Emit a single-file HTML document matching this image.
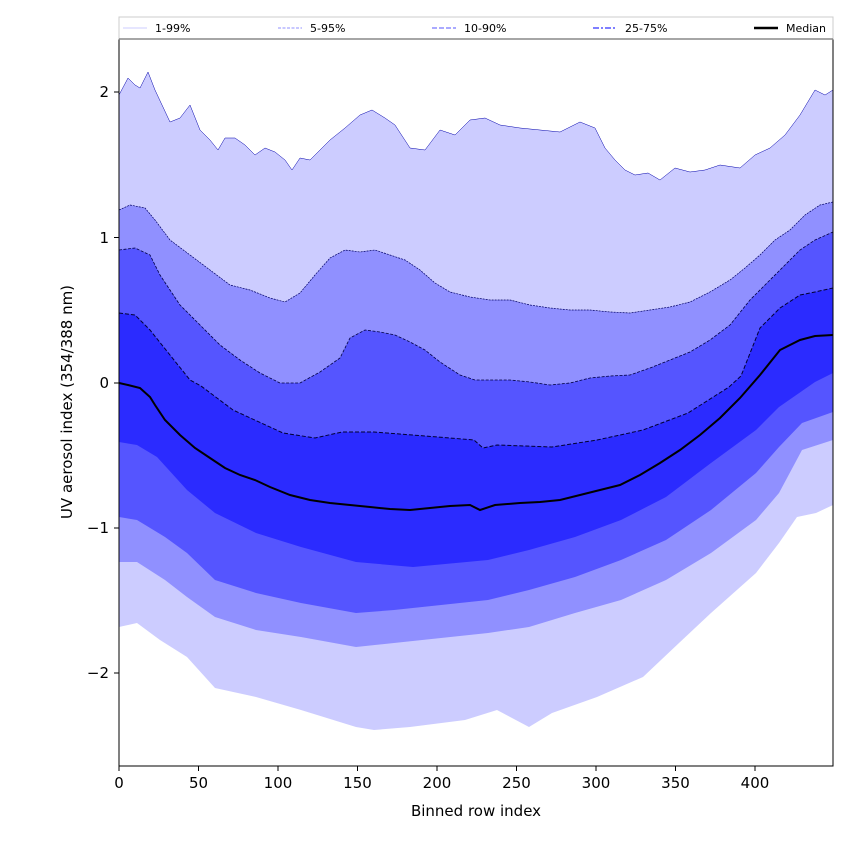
<!DOCTYPE html>
<html><head><meta charset="utf-8"><style>
body{margin:0;background:#fff;}
text{font-family:"DejaVu Sans","Liberation Sans",sans-serif;}
</style></head><body>
<svg width="850" height="850" viewBox="0 0 850 850" xmlns="http://www.w3.org/2000/svg">
<rect width="850" height="850" fill="#fff"/>
<defs><clipPath id="c"><rect x="119" y="39" width="714" height="727"/></clipPath></defs>
<g clip-path="url(#c)">
<polygon fill="#ccccff" stroke="none" points="119,95 128,78 135,85 140,88 148,72 155,90 170,122 180,118 190,105 200,130 210,140 218,150 225,138 235,138 245,145 255,155 265,148 275,152 285,160 292,170 300,158 310,160 320,150 330,140 345,128 360,115 372,110 385,118 395,125 410,148 425,150 440,130 455,135 470,120 485,118 500,125 520,128 540,130 560,132 580,122 595,128 605,148 615,160 625,170 635,175 648,173 660,180 675,168 690,172 705,170 720,165 740,168 755,155 770,148 785,135 800,115 815,90 825,95 833,90 833,505 816,513 797,517 779,543 756,573 711,613 679,643 643,677 597,697 552,713 529,727 497,710 465,720 410,727 374,730 356,727 301,710 256,697 215,688 187,657 160,640 137,623 119,627"/>
<polyline fill="none" stroke="#0000aa" stroke-width="0.5" points="119,95 128,78 135,85 140,88 148,72 155,90 170,122 180,118 190,105 200,130 210,140 218,150 225,138 235,138 245,145 255,155 265,148 275,152 285,160 292,170 300,158 310,160 320,150 330,140 345,128 360,115 372,110 385,118 395,125 410,148 425,150 440,130 455,135 470,120 485,118 500,125 520,128 540,130 560,132 580,122 595,128 605,148 615,160 625,170 635,175 648,173 660,180 675,168 690,172 705,170 720,165 740,168 755,155 770,148 785,135 800,115 815,90 825,95 833,90"/>
<polygon fill="#9090ff" stroke="none" points="119,210 130,205 145,208 155,220 170,240 190,255 210,270 230,285 250,290 270,298 285,302 300,293 315,275 330,258 345,250 360,252 375,250 390,255 405,260 420,270 435,283 450,292 470,297 490,300 510,300 530,305 550,308 570,310 590,310 610,312 630,313 650,310 670,307 690,302 710,292 730,280 745,268 760,255 775,240 790,230 805,215 820,205 833,202 833,440 802,450 779,493 756,520 711,553 666,580 621,600 575,613 529,627 488,633 394,643 356,647 301,637 256,630 215,617 187,597 165,580 137,562 119,562"/>
<polyline fill="none" stroke="#000066" stroke-width="0.7" stroke-dasharray="2,1" points="119,210 130,205 145,208 155,220 170,240 190,255 210,270 230,285 250,290 270,298 285,302 300,293 315,275 330,258 345,250 360,252 375,250 390,255 405,260 420,270 435,283 450,292 470,297 490,300 510,300 530,305 550,308 570,310 590,310 610,312 630,313 650,310 670,307 690,302 710,292 730,280 745,268 760,255 775,240 790,230 805,215 820,205 833,202"/>
<polygon fill="#5555ff" stroke="none" points="119,250 135,248 150,255 160,275 180,305 200,325 220,345 240,360 260,373 280,383 300,383 320,372 340,358 350,338 365,330 380,332 395,335 410,342 425,350 440,362 460,375 475,380 490,380 510,380 530,382 550,385 570,383 590,378 610,376 630,375 650,368 670,360 690,352 710,340 730,325 750,300 765,285 780,270 800,250 815,240 833,232 833,412 802,423 779,447 756,473 711,510 666,540 621,560 575,577 529,590 488,600 394,610 356,613 301,603 256,593 215,580 187,553 165,537 137,520 119,517"/>
<polyline fill="none" stroke="#000044" stroke-width="0.8" stroke-dasharray="3,1.5" points="119,250 135,248 150,255 160,275 180,305 200,325 220,345 240,360 260,373 280,383 300,383 320,372 340,358 350,338 365,330 380,332 395,335 410,342 425,350 440,362 460,375 475,380 490,380 510,380 530,382 550,385 570,383 590,378 610,376 630,375 650,368 670,360 690,352 710,340 730,325 750,300 765,285 780,270 800,250 815,240 833,232"/>
<polygon fill="#2b2bff" stroke="none" points="119,313 135,315 150,330 170,355 190,380 201,386 233,410 283,433 315,438 342,432 374,432 438,437 474,440 483,448 497,445 552,447 597,440 643,430 688,413 729,387 741,376 760,328 780,308 800,295 815,292 833,288 833,373 815,382 779,407 756,430 711,463 666,497 621,520 575,537 529,550 488,560 413,567 356,562 301,547 256,533 215,513 187,490 157,457 137,445 119,442"/>
<polyline fill="none" stroke="#000033" stroke-width="1" stroke-dasharray="4,2" points="119,313 135,315 150,330 170,355 190,380 201,386 233,410 283,433 315,438 342,432 374,432 438,437 474,440 483,448 497,445 552,447 597,440 643,430 688,413 729,387 741,376 760,328 780,308 800,295 815,292 833,288"/>
<polyline fill="none" stroke="#000" stroke-width="2" points="119,383 128,385 140,388 150,397 155,405 165,420 180,435 195,448 210,458 225,468 240,475 255,480 270,487 290,495 310,500 330,503 350,505 370,507 390,509 410,510 430,508 450,506 470,505 480,510 495,505 520,503 540,502 560,500 580,495 600,490 620,485 640,475 660,463 680,450 700,435 720,418 740,398 760,375 780,350 800,340 815,336 833,335"/>
</g>
<rect x="119" y="39" width="714" height="727" fill="none" stroke="#000" stroke-width="1"/>
<rect x="119" y="17" width="714" height="22" fill="#fff" stroke="#ccc" stroke-width="1"/>
<line x1="119" y1="39" x2="833" y2="39" stroke="#888" stroke-width="1.5"/>
<g font-size="11" fill="#000">
<line x1="123" y1="28" x2="147" y2="28" stroke="#ccccff" stroke-width="1"/><text x="155" y="32">1-99%</text>
<line x1="278" y1="28" x2="302" y2="28" stroke="#9090ff" stroke-width="1" stroke-dasharray="3,1.5"/><text x="310" y="32">5-95%</text>
<line x1="432" y1="28" x2="456" y2="28" stroke="#7777ff" stroke-width="1.3" stroke-dasharray="5,2"/><text x="464" y="32">10-90%</text>
<line x1="593" y1="28" x2="617" y2="28" stroke="#5555ff" stroke-width="1.6" stroke-dasharray="6,2,2,2"/><text x="625" y="32">25-75%</text>
<line x1="754" y1="28" x2="778" y2="28" stroke="#000" stroke-width="2.5"/><text x="786" y="32">Median</text>
</g>
<g stroke="#000" stroke-width="1">
<line x1="119" y1="766" x2="119" y2="771"/><line x1="198.5" y1="766" x2="198.5" y2="771"/><line x1="278" y1="766" x2="278" y2="771"/><line x1="357.5" y1="766" x2="357.5" y2="771"/><line x1="437" y1="766" x2="437" y2="771"/><line x1="516.5" y1="766" x2="516.5" y2="771"/><line x1="596" y1="766" x2="596" y2="771"/><line x1="675.5" y1="766" x2="675.5" y2="771"/><line x1="755" y1="766" x2="755" y2="771"/>
<line x1="114" y1="92" x2="119" y2="92"/><line x1="114" y1="237.5" x2="119" y2="237.5"/><line x1="114" y1="383" x2="119" y2="383"/><line x1="114" y1="528" x2="119" y2="528"/><line x1="114" y1="673" x2="119" y2="673"/>
</g>
<g font-size="15" fill="#000" text-anchor="middle">
<text x="119" y="788">0</text><text x="198.5" y="788">50</text><text x="278" y="788">100</text><text x="357.5" y="788">150</text><text x="437" y="788">200</text><text x="516.5" y="788">250</text><text x="596" y="788">300</text><text x="675.5" y="788">350</text><text x="755" y="788">400</text>
<text x="476" y="816">Binned row index</text>
</g>
<g font-size="15" fill="#000" text-anchor="end">
<text x="109" y="97">2</text><text x="109" y="243">1</text><text x="109" y="388">0</text><text x="109" y="533">−1</text><text x="109" y="678">−2</text>
</g>
<text font-size="15" text-anchor="middle" transform="translate(72,402) rotate(-90)">UV aerosol index (354/388 nm)</text>
</svg>
</body></html>
